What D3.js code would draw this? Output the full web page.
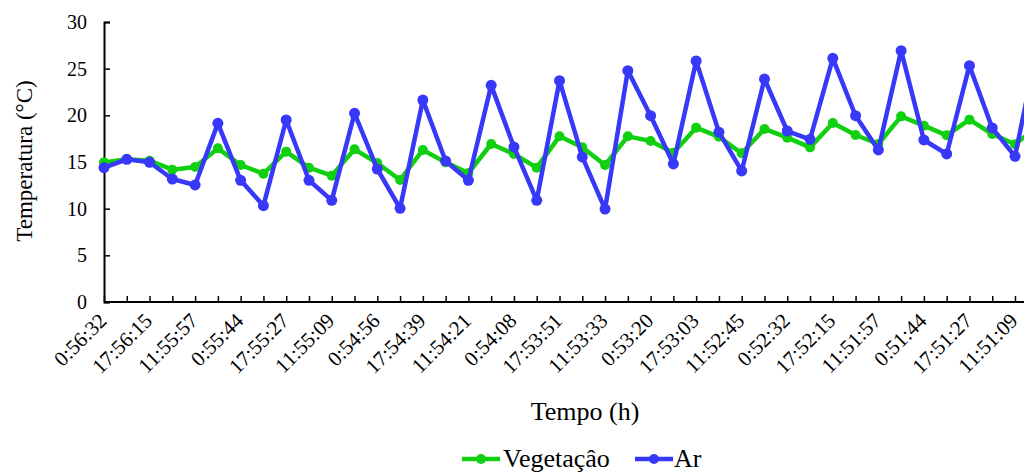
<!DOCTYPE html>
<html>
<head>
<meta charset="utf-8">
<script src="https://cdn.jsdelivr.net/npm/d3@7"></script>
<style>
  body { margin: 0; background: #fff; }
</style>
</head>
<body>
<div id="chart"></div>
<script>
// labels shown on the x axis (every second reading)
var tickLabels = ["0:56:32","17:56:15","11:55:57","0:55:44","17:55:27","11:55:09","0:54:56",
  "17:54:39","11:54:21","0:54:08","17:53:51","11:53:33","0:53:20","17:53:03","11:52:45",
  "0:52:32","17:52:15","11:51:57","0:51:44","17:51:27","11:51:09"];

var vegetacao = [14.96,15.29,15.14,14.18,14.46,16.46,14.68,13.75,16.11,14.39,13.54,16.36,14.89,13.07,
  16.29,14.96,13.82,16.93,15.86,14.39,17.75,16.57,14.68,17.75,17.25,16.0,18.68,17.7,
  15.93,18.54,17.61,16.57,19.18,17.89,16.93,19.89,18.89,17.86,19.54,18.0,16.9,18.8];

var ar = [14.39,15.29,14.97,13.18,12.54,19.14,13.04,10.32,19.5,13.04,10.89,20.21,14.25,10.04,
  21.64,15.11,13.04,23.21,16.61,10.89,23.71,15.54,9.96,24.79,19.96,14.79,25.82,18.2,
  14.04,23.89,18.32,17.43,26.11,19.96,16.29,26.93,17.36,15.86,25.32,18.65,15.61,27.5];

var yTicks = [0,5,10,15,20,25,30];

const width = 1024;
const height = 472;
const serif = "'Liberation Serif', Tinos, 'DejaVu Serif', 'Times New Roman', Times, serif";

const padding = { top: 22, left: 104, bottom: 170 };
const step = 22.775;
var n = vegetacao.length;

var svg = d3.select("#chart").append("svg")
  .attr("width", width)
  .attr("height", height)
  .attr("font-family", serif);

var xScale = d3.scalePoint()
  .domain(d3.range(n))
  .range([padding.left, padding.left + step * (n - 1)]);

var yScale = d3.scaleLinear()
  .domain([0, 30])
  .range([height - padding.bottom, padding.top]);

var y0 = yScale(0);

// y axis
var yAxis = d3.axisLeft(yScale).tickValues(yTicks).tickSize(-6).tickPadding(17);
var gy = svg.append("g").attr("transform", "translate(" + padding.left + ",0)").call(yAxis);
gy.attr("font-family", serif).attr("font-size", 20);
gy.select(".domain").attr("stroke", "#000").attr("stroke-width", 2);
gy.selectAll(".tick line").attr("stroke", "#000").attr("stroke-width", 1.5);
gy.selectAll(".tick text").attr("fill", "#000");

// x axis
var xAxis = d3.axisBottom(xScale).tickSize(-6).tickFormat("");
var gx = svg.append("g").attr("transform", "translate(0," + y0 + ")").call(xAxis);
gx.select(".domain").attr("d", "M" + padding.left + ",0H" + (width + 20)).attr("stroke", "#000").attr("stroke-width", 2);
gx.selectAll(".tick line").attr("stroke", "#000").attr("stroke-width", 1.5);

svg.append("g").selectAll("text")
  .data(tickLabels)
  .enter()
  .append("text")
  .attr("transform", function(d, i) { return "translate(" + (xScale(i * 2) + 4) + "," + (y0 + 20) + ") rotate(-45)"; })
  .attr("text-anchor", "end")
  .style("font-family", serif)
  .style("font-size", "21px")
  .text(function(d) { return d; });

// titles
svg.append("text")
  .attr("transform", "translate(32,161) rotate(-90)")
  .attr("text-anchor", "middle")
  .style("font-family", serif)
  .style("font-size", "23px")
  .text("Temperatura (°C)");

svg.append("text")
  .attr("x", 585)
  .attr("y", 420)
  .attr("text-anchor", "middle")
  .style("font-family", serif)
  .style("font-size", "26px")
  .text("Tempo (h)");

// series
var series = [
  { name: "Vegetaçâo", values: vegetacao, color: "#10d010", w: 4.5, r: 5 },
  { name: "Ar", values: ar, color: "#3838f8", w: 4.5, r: 5.5 }
];

var line = d3.line()
  .x(function(d, i) { return xScale(i); })
  .y(function(d) { return yScale(d); });

series.forEach(function(s) {
  var g = svg.append("g");
  g.append("path")
    .datum(s.values)
    .attr("fill", "none")
    .attr("stroke", s.color)
    .attr("stroke-width", s.w)
    .attr("stroke-linejoin", "round")
    .attr("d", line);
  g.selectAll("circle")
    .data(s.values)
    .enter()
    .append("circle")
    .attr("cx", function(d, i) { return xScale(i); })
    .attr("cy", function(d) { return yScale(d); })
    .attr("r", s.r)
    .attr("fill", s.color);
});

// legend
var legendPos = [{ x: 462, tx: 503 }, { x: 635, tx: 674 }];
var lg = svg.append("g").selectAll("g")
  .data(series)
  .enter()
  .append("g")
  .attr("transform", function(d, i) { return "translate(" + legendPos[i].x + ",459)"; });
lg.append("line")
  .attr("x1", 0).attr("x2", 38)
  .attr("stroke", function(d) { return d.color; })
  .attr("stroke-width", 4.5);
lg.append("circle")
  .attr("cx", 19)
  .attr("r", 5)
  .attr("fill", function(d) { return d.color; });
lg.append("text")
  .attr("x", function(d, i) { return legendPos[i].tx - legendPos[i].x; })
  .attr("y", 8)
  .style("font-family", serif)
  .style("font-size", "26px")
  .text(function(d) { return d.name; });
</script>
</body>
</html>
